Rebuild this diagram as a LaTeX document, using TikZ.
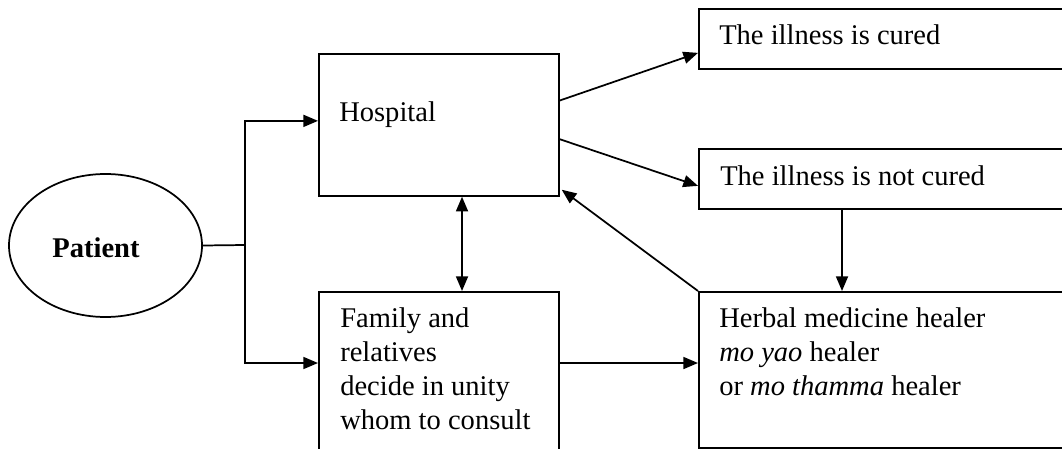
\documentclass[tikz,border=0pt]{standalone}
\usepackage{fontspec}
\setmainfont{Liberation Serif}
\usetikzlibrary{arrows.meta,calc,shapes.geometric}
\begin{document}
\begin{tikzpicture}[x=0.75pt,y=-0.75pt,
  box/.style={draw,line width=1.3pt,rectangle,inner sep=0pt,anchor=north west},
  txt/.style={inner sep=0pt,anchor=base west,align=left,font=\fontsize{21.4}{25.5}\selectfont},
  arr/.style={line width=1.3pt,-{Triangle[length=11pt,width=9pt]}},
  dbl/.style={line width=1.3pt,{Triangle[length=11pt,width=9pt]}-{Triangle[length=11pt,width=9pt]}},
  ln/.style={line width=1.3pt,line cap=rect}]
\useasboundingbox (0,0) rectangle (1062,449);
% boxes
\node[draw,line width=1.3pt,ellipse,minimum width=193*0.75pt,minimum height=143*0.75pt,inner sep=0pt] (patient) at (105.5,245.5) {};
\node[box,minimum width=240*0.75pt,minimum height=142*0.75pt] (hosp) at (318,53) {};
\node[box,minimum width=240*0.75pt,minimum height=162*0.75pt] (fam) at (318,291) {};
\node[box,minimum width=372*0.75pt,minimum height=60*0.75pt] (cured) at (698,8) {};
\node[box,minimum width=372*0.75pt,minimum height=60*0.75pt] (notc) at (698,148) {};
\node[box,minimum width=372*0.75pt,minimum height=156*0.75pt] (herb) at (698,291) {};
% texts
\node[inner sep=0pt,anchor=base,font=\fontsize{21.4}{25.5}\selectfont\bfseries] (patientt) at (96,257) {Patient};
\node[txt] (hospt) at (339,122) {Hospital};
\node[txt] (curedt) at (719,45) {The illness is cured};
\node[txt] (notct) at (720,185) {The illness is not cured};
\node[txt] (famt) at (340,429) {Family and\\relatives\\decide in unity\\whom to consult};
\node[txt] (herbt) at (719,395) {Herbal medicine healer\\\textit{mo yao} healer\\or \textit{mo thamma} healer};
% connectors
\coordinate (j) at (245,245);
\coordinate (hin) at ($(hosp.west)+(0,-4)$);
\coordinate (fin) at ($(fam.north west)+(0,72)$);
\draw[ln] (patient.east) -- (j);
\draw[arr] (j) |- (hin);
\draw[arr] (j) |- (fin);
\coordinate (h1) at ($(hosp.east)+(-1,-24)$);
\coordinate (c1) at ($(cured.west)+(0,14)$);
\draw[arr] (h1) -- (c1);
\coordinate (h2) at ($(hosp.east)+(-1,14)$);
\coordinate (n1) at ($(notc.west)+(0,7)$);
\draw[arr] (h2) -- (n1);
\coordinate (h3) at ($(hosp.south east)+(2,-7)$);
\draw[arr] (herb.north west) -- (h3);
\coordinate (ns) at ($(notc.south west)+(144,0)$);
\draw[arr] (ns) -- (ns |- herb.north);
\coordinate (hs) at ($(hosp.south west)+(144,0)$);
\draw[dbl] (hs) -- (hs |- fam.north);
\coordinate (fe) at ($(fam.north east)+(0,72)$);
\draw[arr] (fe) -- (fe -| herb.west);
\end{tikzpicture}
\end{document}
